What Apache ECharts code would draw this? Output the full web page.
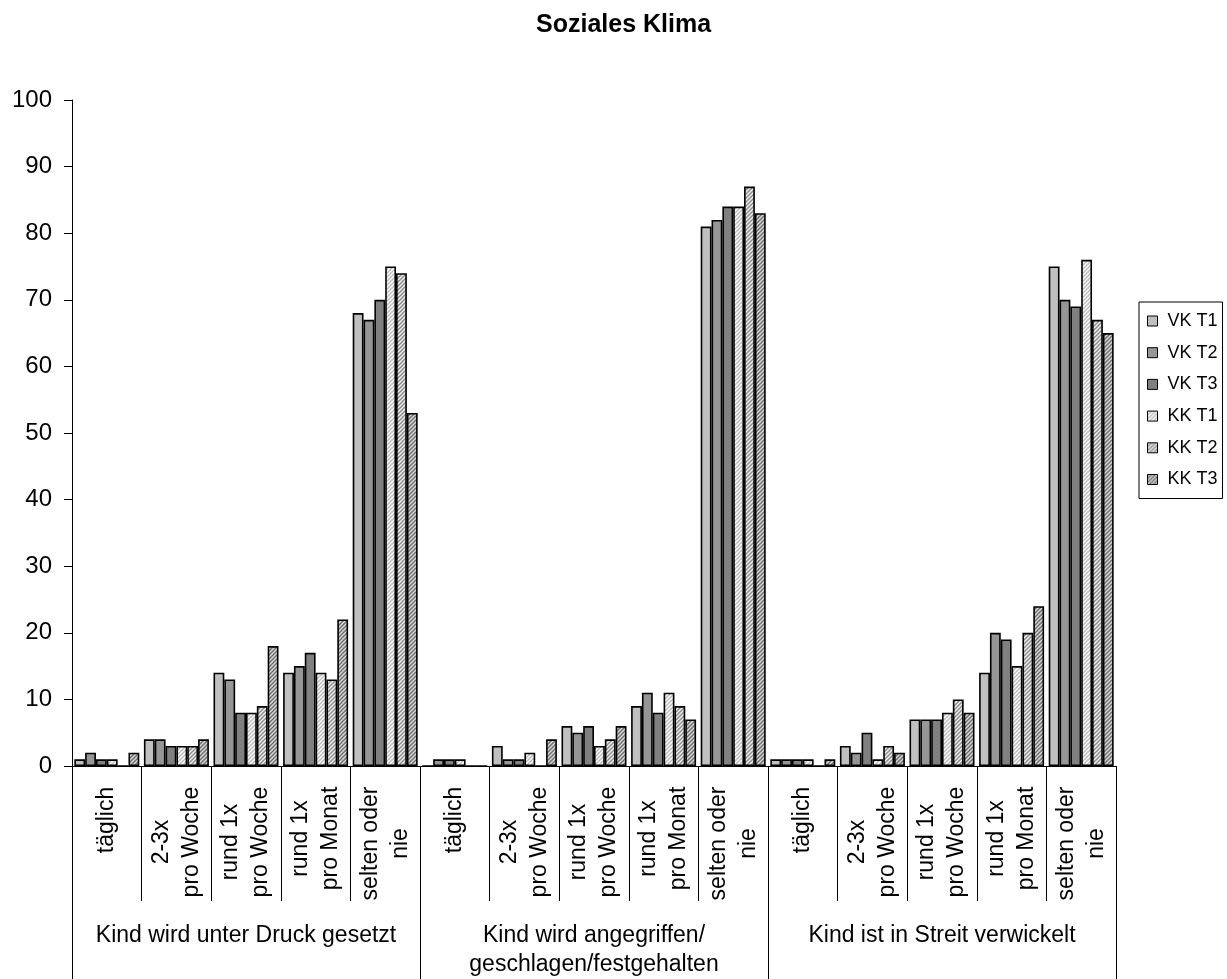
<!DOCTYPE html>
<html>
<head>
<meta charset="utf-8">
<script src="https://cdn.jsdelivr.net/npm/echarts@6/dist/echarts.min.js"></script>
<style>
html,body{margin:0;padding:0;background:#fff;}
#chart{width:1227px;height:979px;}
</style>
</head>
<body>
<div id="chart"></div>
<script>
const titleText = 'Soziales Klima';
const subCategories = ['täglich', '2-3x\npro Woche', 'rund 1x\npro Woche', 'rund 1x\npro Monat', 'selten oder\nnie'];
const groups = ['Kind wird unter Druck gesetzt', 'Kind wird angegriffen/\ngeschlagen/festgehalten', 'Kind ist in Streit verwickelt'];
const seriesNames = ['VK T1', 'VK T2', 'VK T3', 'KK T1', 'KK T2', 'KK T3'];
const yTicks = { min: 0, max: 100, interval: 10 };

const vkT1 = [1, 4, 14, 14, 68,  0, 3, 6, 9, 81,  1, 3, 7, 14, 75];
const vkT2 = [2, 4, 13, 15, 67,  1, 1, 5, 11, 82,  1, 2, 7, 20, 70];
const vkT3 = [1, 3, 8, 17, 70,  1, 1, 6, 8, 84,  1, 5, 7, 19, 69];
const kkT1 = [1, 3, 8, 14, 75,  1, 2, 3, 11, 84,  1, 1, 8, 15, 76];
const kkT2 = [0, 3, 9, 13, 74,  0, 0, 4, 9, 87,  0, 3, 10, 20, 67];
const kkT3 = [2, 4, 18, 22, 53,  0, 4, 6, 7, 83,  1, 2, 8, 24, 65];

const FONT = '"Liberation Sans", Arial, Helvetica, sans-serif';

function hatch(bg, stripe, lw) {
  const s = 4;
  const c = document.createElement('canvas');
  c.width = s; c.height = s;
  const g = c.getContext('2d');
  g.fillStyle = bg; g.fillRect(0, 0, s, s);
  g.strokeStyle = stripe; g.lineWidth = lw;
  g.beginPath();
  g.moveTo(-1, s + 1); g.lineTo(s + 1, -1);
  g.moveTo(-1, 1); g.lineTo(1, -1);
  g.moveTo(s - 1, s + 1); g.lineTo(s + 1, s - 1);
  g.stroke();
  return { image: c, repeat: 'repeat' };
}

const fills = [
  '#c0c0c0',
  '#969696',
  '#808080',
  hatch('#ffffff', '#bdbdbd', 1.5),
  hatch('#f2f2f2', '#8c8c8c', 1.5),
  hatch('#dcdcdc', '#6e6e6e', 1.5)
];
const values = [vkT1, vkT2, vkT3, kkT1, kkT2, kkT3];

// flat category list (15) and measured label widths for centred multi-line rotated labels
const LBL = 23;
const flatCats = [];
groups.forEach(() => subCategories.forEach(s => flatCats.push(s)));
const mctx = document.createElement('canvas').getContext('2d');
mctx.font = LBL + 'px ' + FONT;
const rich = {};
subCategories.forEach((s, k) => {
  const w = Math.max.apply(null, s.split('\n').map(l => mctx.measureText(l).width));
  rich['s' + k] = { width: Math.ceil(w) + 1, align: 'center', fontSize: LBL, lineHeight: 30, fontFamily: FONT, color: '#000' };
});

const chart = echarts.init(document.getElementById('chart'), null, { renderer: 'canvas' });
chart.setOption({
  backgroundColor: '#fff',
  animation: false,
  title: {
    text: titleText,
    left: 531,
    top: 8,
    textStyle: { fontFamily: FONT, fontWeight: 'bold', fontSize: 25, color: '#000' }
  },
  legend: {
    orient: 'vertical',
    left: 1139,
    top: 302,
    padding: [9, 5, 9, 8],
    itemWidth: 10,
    itemHeight: 10,
    itemGap: 11.7,
    borderColor: '#000',
    borderWidth: 1,
    icon: 'rect',
    itemStyle: { borderColor: '#000', borderWidth: 1 },
    textStyle: { fontFamily: FONT, fontSize: 18, color: '#000', lineHeight: 20, padding: [0, 0, 0, 5] },
    data: seriesNames
  },
  grid: { left: 72, right: 111, top: 100, bottom: 212.3, containLabel: false },
  xAxis: [
    {
      type: 'category',
      position: 'bottom',
      data: flatCats,
      axisLine: { show: true, lineStyle: { color: '#000', width: 1 } },
      axisTick: { show: true, interval: 0, length: 135, lineStyle: { color: '#000', width: 1 } },
      axisLabel: {
        interval: 0,
        rotate: 90,
        margin: 20,
        color: '#000',
        fontFamily: FONT,
        fontSize: LBL,
        lineHeight: 30,
        rich: rich,
        formatter: function (v, i) {
          const k = i % subCategories.length;
          return v.split('\n').map(l => '{s' + k + '|' + l + '}').join('\n');
        }
      },
      splitLine: { show: false }
    },
    {
      type: 'category',
      position: 'bottom',
      data: groups,
      axisLine: { show: false },
      axisTick: { show: true, interval: 0, length: 215, lineStyle: { color: '#000', width: 1 } },
      axisLabel: {
        interval: 0,
        margin: 155,
        color: '#000',
        fontFamily: FONT,
        fontSize: 23,
        lineHeight: 29
      },
      splitLine: { show: false }
    }
  ],
  yAxis: {
    type: 'value',
    min: yTicks.min,
    max: yTicks.max,
    interval: yTicks.interval,
    axisLine: { show: true, lineStyle: { color: '#000', width: 1 } },
    axisTick: { show: true, length: 8, lineStyle: { color: '#000', width: 1 } },
    axisLabel: { margin: 20, color: '#000', fontFamily: FONT, fontSize: 24 },
    splitLine: { show: false }
  },
  series: seriesNames.map((n, idx) => ({
    name: n,
    type: 'bar',
    xAxisIndex: 0,
    data: values[idx],
    barGap: '0%',
    barCategoryGap: '6.6%',
    itemStyle: { color: fills[idx], borderColor: '#000', borderWidth: 1.6 },
    emphasis: { disabled: true }
  }))
});
</script>
</body>
</html>
